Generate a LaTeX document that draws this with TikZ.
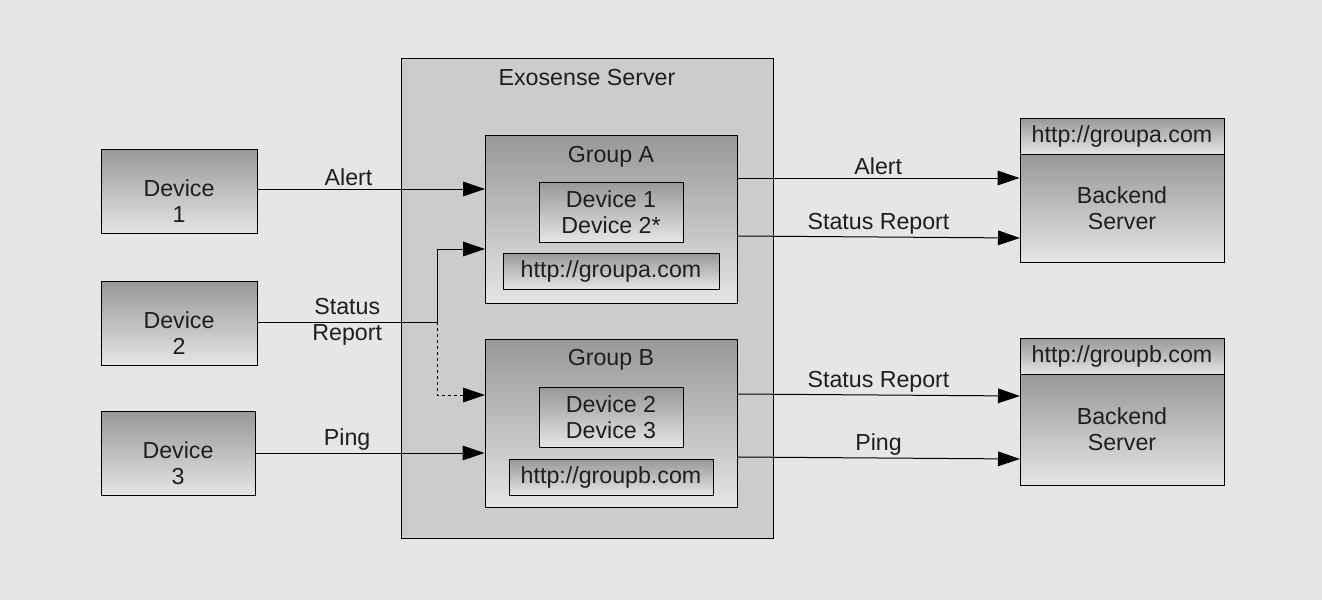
\documentclass[tikz,border=0pt]{standalone}
\usepackage{fontspec}
\setmainfont{Liberation Sans}
\usetikzlibrary{arrows.meta,calc}

\definecolor{bgcol}{RGB}{230,230,230}
\definecolor{srvcol}{RGB}{204,204,204}
\definecolor{topcol}{RGB}{152,152,152}
\definecolor{botcol}{RGB}{229,229,229}
\definecolor{inkcol}{RGB}{30,30,30}
\newcommand\lbl{\fontsize{17.4}{19.5}\selectfont}

\tikzset{
  box/.style 2 args={draw, line width=0.75pt, top color=topcol, bottom color=botcol,
    minimum width=#1*0.75pt, minimum height=#2*0.75pt, inner sep=0pt,
    align=center, font=\lbl, text=inkcol},
  srvbox/.style 2 args={draw, line width=0.75pt, fill=srvcol,
    minimum width=#1*0.75pt, minimum height=#2*0.75pt, inner sep=0pt},
  lab/.style={font=\lbl, align=center, text=inkcol, inner sep=2pt},
  arr/.style={-{Triangle[length=16.5pt,width=11pt]}, line width=0.75pt},
}

\begin{document}
\begin{tikzpicture}[x=0.75pt, y=-0.75pt]
  \fill[bgcol] (0,0) rectangle (1322,600);
  \useasboundingbox (0,0) rectangle (1322,600);

  % server with its two groups
  \node[srvbox={372}{480}] (srv) at (587,298) {};
  \node[lab] (srvT) at ($(srv.north)+(0,20)$) {Exosense Server};

  \node[box={252}{168}] (grpA) at (611,219) {};
  \node[lab] (grpAT) at ($(grpA.north)+(0,22)$) {Group A};
  \node[box={144}{60}] (memA) at (611,212) {Device 1\\Device 2*};
  \node[box={216}{36}] (urlA) at (611,271) {http://groupa.com};

  \node[box={252}{168}] (grpB) at (611,423) {};
  \node[lab] (grpBT) at ($(grpB.north)+(0,21)$) {Group B};
  \node[box={144}{60}] (memB) at (611,417) {Device 2\\Device 3};
  \node[box={204}{36}] (urlB) at (611,477) {http://groupb.com};

  % devices
  \node[box={156}{84}, label={[lab, yshift=-7.5pt]center:Device\\1}] (dev1) at (179,191) {};
  \node[box={156}{84}, label={[lab, yshift=-7.5pt]center:Device\\2}] (dev2) at (179,323) {};
  \node[box={154}{84}, label={[lab, yshift=-7.5pt]center:Device\\3}] (dev3) at (178,453) {};

  % backends
  \node[box={204}{36}] (headA) at (1122,136) {http://groupa.com};
  \node[box={204}{108}] (backA) at (1122,208) {Backend\\Server};
  \node[box={204}{36}] (headB) at (1122,356) {http://groupb.com};
  \node[box={204}{111}] (backB) at (1122,429.5) {Backend\\Server};

  % ports
  \coordinate (inA1) at (485,189);
  \coordinate (split) at (437,322);
  \coordinate (inA2) at (485,249);
  \coordinate (inB1) at (485,395);
  \coordinate (outA1) at (737,178);
  \coordinate (outA2) at (737,236);
  \coordinate (outB1) at (737,394);
  \coordinate (outB2) at (737,457);
  \coordinate (toA2) at (1020,238);
  \coordinate (toB1) at (1020,396);
  \coordinate (toB2) at (1020,459);

  % connections
  \draw[arr] (dev1.east |- inA1) -- (inA1) node[lab, pos=0.4, above] {Alert};
  \draw[line width=0.75pt] (dev2.east |- split) -- (split) node[lab, midway] {Status\\Report};
  \draw[arr] (split) |- (inA2);
  \draw[arr, dash pattern=on 2.25pt off 2.25pt] (split) |- (inB1);
  \draw[arr] (dev3) -- (dev3 -| grpB.west) node[lab, pos=0.4, above] {Ping};

  \draw[arr] (outA1) -- (outA1 -| backA.west) node[lab, midway, above] {Alert};
  \draw[arr] (outA2) -- (toA2) node[lab, midway, above] {Status Report};
  \draw[arr] (outB1) -- (toB1) node[lab, midway, above] {Status Report};
  \draw[arr] (outB2) -- (toB2) node[lab, midway, above] {Ping};
\end{tikzpicture}
\end{document}
